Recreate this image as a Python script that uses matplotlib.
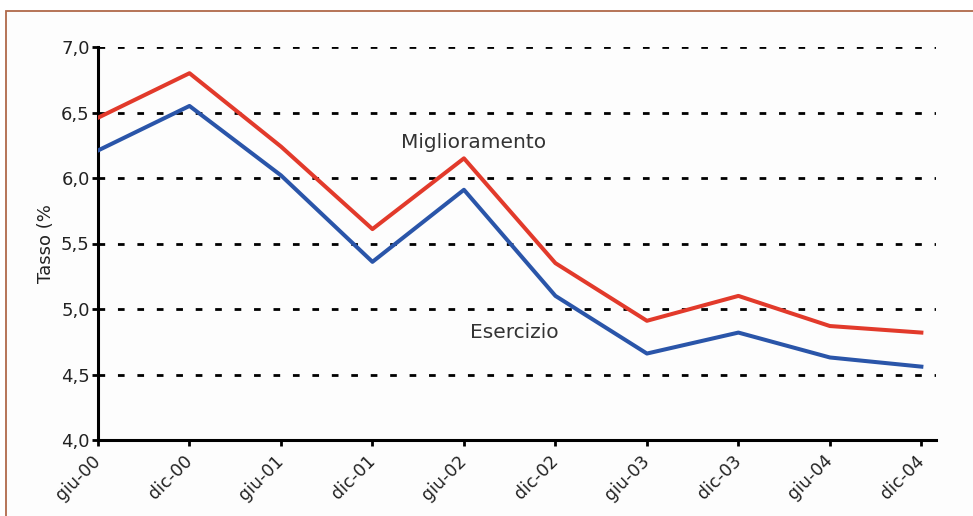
import numpy as np
import matplotlib.pyplot as plt
from matplotlib.patches import Rectangle

# semestri e tassi (%)
periodi = ["giu-00", "dic-00", "giu-01", "dic-01", "giu-02",
           "dic-02", "giu-03", "dic-03", "giu-04", "dic-04"]
miglioramento = [6.46, 6.80, 6.24, 5.61, 6.15, 5.35, 4.91, 5.10, 4.87, 4.82]
esercizio = [6.21, 6.55, 6.02, 5.36, 5.91, 5.10, 4.66, 4.82, 4.63, 4.56]
valori_y = [4.0, 4.5, 5.0, 5.5, 6.0, 6.5, 7.0]
etichette_y = ["4,0", "4,5", "5,0", "5,5", "6,0", "6,5", "7,0"]

rosso = "#E23A2B"
blu = "#2A55A9"

fig = plt.figure(figsize=(9.73, 5.16), dpi=100)

# cornice del riquadro (sotto gli assi)
fig.patches.append(Rectangle((6 / 973, -0.05), 1.2, (516 - 11) / 516 + 0.05,
                             transform=fig.transFigure, facecolor="#FDFDFD",
                             edgecolor="#B0694A", lw=1.3, zorder=-10))

ax = fig.add_axes([98 / 973, 1 - 440 / 516, 838 / 973, 393 / 516])
ax.set_facecolor("none")
ax.set_zorder(5)

x = np.arange(len(periodi))

# griglia tratteggiata
for v in valori_y[1:]:
    ax.plot([0, 9.16], [v, v], color="black", lw=2.0,
            ls=(0, (2.4, 4.6)), zorder=1, solid_capstyle="butt")

ax.plot(x, miglioramento, color=rosso, lw=2.9, zorder=3)
ax.plot(x, esercizio, color=blu, lw=2.9, zorder=3)

ax.text(4.11, 6.27, "Miglioramento", fontsize=14.5, ha="center",
        va="center", color="#333333")
ax.text(4.55, 4.82, "Esercizio", fontsize=14.5, ha="center",
        va="center", color="#333333")

ax.set_xlim(0, 9.16)
ax.set_ylim(4.0, 7.0)
ax.set_xticks(x)
ax.set_xticklabels(periodi, rotation=45, ha="right", va="center",
                   rotation_mode="anchor", fontsize=12.5, color="#222222")
ax.set_yticks(valori_y)
ax.set_yticklabels(etichette_y, fontsize=13, color="#222222")
ax.set_ylabel("Tasso (%", fontsize=13, color="#222222", labelpad=4)

for lato in ["top", "right"]:
    ax.spines[lato].set_visible(False)
ax.spines["left"].set_linewidth(2.2)
ax.spines["bottom"].set_linewidth(2.2)
ax.tick_params(axis="both", width=2, length=4, direction="out")
ax.tick_params(axis="y", pad=2)
ax.tick_params(axis="x", pad=9)

fig.savefig("out.png", dpi=100)
